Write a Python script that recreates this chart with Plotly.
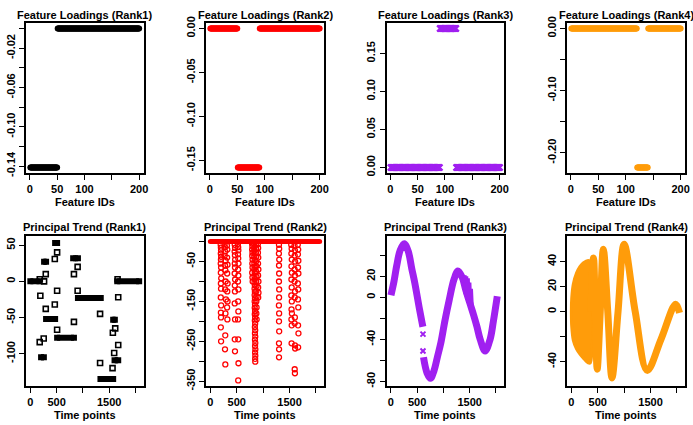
import plotly.graph_objects as go

W, H = 693, 425

# ----------------------------- data -----------------------------
# Feature loadings: (first feature, last feature, loading value)
rank1_loading_blocks = [(1, 50, -0.1414), (51, 200, 0.0)]
rank2_loading_blocks = [(1, 50, 0.0), (51, 90, -0.1581), (91, 200, 0.0)]
rank3_loading_blocks = [(1, 90, 0.0), (91, 120, 0.1826), (121, 200, 0.0)]
rank4_loading_blocks = [(1, 120, 0.0), (121, 140, -0.2236), (141, 200, 0.0)]

# Principal trend rank 1: plateaus (t_start, t_end, value) + isolated points
rank1_plateaus = [(1, 175, 0), (205, 258, -105), (262, 300, 27), (300, 472, -52),
                  (472, 510, 53), (510, 830, -78), (815, 906, 32), (906, 1340, -23),
                  (1334, 1576, -135), (1576, 1608, -53), (1602, 1672, -109),
                  (1653, 2070, 0)]
rank1_pts_t = [180, 191, 179, 255, 262, 294, 294, 466, 466, 510, 510, 510,
               830, 830, 900, 900, 1327, 1327, 1564, 1595, 1570, 1615, 1672, 1672, 1660]
rank1_pts_v = [3, -20, -84, -79, 0, 10, -38, -32, 31, 40, -13, -67,
               10, -56, 20, -13, -45, -113, -120, -99, -71, -65, -88, -22, 3]

# Principal trend rank 2: baseline at zero + downward spikes (t, value)
rank2_baseline = (1, 2070, 0.0)
rank2_spikes = [
    (196, -8), (200, -15), (203, -22), (198, -30), (205, -38), (201, -45), (197, -55),
    (204, -65), (199, -78), (206, -92), (200, -105), (203, -118), (198, -140), (205, -160),
    (200, -178), (202, -190), (199, -215), (204, -250),
    (270, -6), (276, -14), (282, -25), (273, -35), (288, -48), (279, -60), (285, -72),
    (290, -100), (281, -120), (296, -145), (287, -180), (283, -235), (278, -270), (284, -308),
    (315, -10), (322, -20), (318, -40), (325, -58), (319, -80), (327, -105), (321, -125),
    (326, -150), (318, -165), (323, -195),
    (462, -8), (468, -16), (460, -25), (466, -34), (470, -45), (463, -55), (467, -65),
    (461, -80), (469, -95), (464, -110), (466, -125), (462, -155), (468, -195), (463, -245),
    (467, -275),
    (522, -6), (528, -14), (531, -22), (525, -32), (529, -42), (533, -55), (526, -70),
    (530, -85), (524, -100), (532, -120), (527, -150), (531, -175), (525, -195),
    (529, -245), (533, -305), (528, -348),
    (790, -5), (796, -12), (792, -20), (798, -28), (794, -36), (800, -45), (795, -55),
    (799, -65), (793, -78), (797, -90), (802, -100),
    (830, -6), (836, -14), (832, -22), (838, -30), (834, -38), (840, -46), (835, -54),
    (839, -62), (833, -70), (841, -78), (836, -86), (842, -94), (837, -102), (843, -110),
    (838, -118), (844, -126), (839, -134), (845, -142), (840, -150), (846, -158),
    (841, -166), (847, -174), (842, -182), (848, -190), (843, -198), (849, -206),
    (844, -214), (850, -222), (845, -230), (851, -238), (846, -246), (852, -254),
    (847, -262), (853, -270), (848, -278), (852, -286), (849, -294), (851, -301),
    (862, -8), (868, -18), (864, -28), (870, -38), (866, -50), (872, -62), (867, -75),
    (873, -88), (869, -100), (874, -112), (870, -125), (875, -138), (871, -150),
    (876, -165), (872, -180), (877, -195),
    (900, -6), (906, -16), (902, -28), (908, -40), (904, -55), (910, -70), (905, -85),
    (911, -100), (906, -115), (912, -128), (907, -140),
    (1300, -8), (1304, -18), (1299, -30), (1305, -45), (1301, -60), (1303, -80),
    (1300, -100), (1304, -120), (1302, -140), (1299, -160), (1303, -180), (1301, -200),
    (1304, -225), (1300, -255), (1302, -270), (1301, -290),
    (1532, -8), (1540, -18), (1535, -30), (1542, -45), (1537, -62), (1544, -78),
    (1536, -95), (1541, -115), (1534, -135), (1543, -150), (1538, -170), (1545, -180),
    (1536, -195), (1541, -210), (1539, -255),
    (1595, -10), (1602, -22), (1598, -35), (1605, -50), (1597, -70), (1603, -85),
    (1596, -100), (1604, -125), (1599, -140), (1601, -190), (1597, -205), (1603, -260),
    (1606, -268), (1598, -320), (1602, -330),
    (1656, -8), (1664, -20), (1659, -32), (1667, -48), (1661, -65), (1668, -80),
    (1658, -105), (1665, -120), (1660, -145), (1666, -165), (1662, -210), (1669, -230),
    (1663, -265),
]

# Principal trend rank 3: band centre line, jagged part and isolated crosses
rank3_seg1_t = [3, 60, 112, 180, 255, 330, 400, 455, 548, 598, 610]
rank3_seg1_v = [2, 15, 30, 45, 51, 44, 27, 14, -12, -25, -28]
rank3_seg2_t = [622, 690, 754, 820, 890, 953, 1030, 1109, 1202, 1277, 1358, 1420,
                1500, 1576, 1639, 1700, 1794, 1888, 1950, 2025]
rank3_seg2_v = [-57, -72, -77, -70, -56, -43, -22, -3, 17, 25, 19, 8,
                -5, -17, -28, -40, -51, -40, -23, 1]
rank3_jag_t = [1390, 1405, 1420, 1435, 1450, 1465, 1480, 1495, 1510, 1525, 1540]
rank3_jag_v = [14, 21, 3, 20, -2, 18, -5, 14, -7, 8, -8]
rank3_iso_t = [612, 612]
rank3_iso_v = [-35, -51]

# Principal trend rank 4: dense early envelope + later oscillation
rank4_env_upper_t = [1, 8, 38, 100, 163, 225, 320, 360]
rank4_env_upper_v = [0, 11, 22, 31, 36, 39, 41, 40]
rank4_env_lower_t = [360, 320, 225, 163, 100, 38, 8]
rank4_env_lower_v = [-41, -41, -37, -34, -30, -23, -12]
rank4_osc_t = [372, 420, 455, 490, 548, 606, 690, 770, 885, 1000, 1210, 1437, 1700, 1975, 2050]
rank4_osc_v = [0, 43, 0, -46, 0, 50, 0, -53, 0, 54, 0, -47, -22, 6, -1]

# tick labels
top_xticks = [0, 50, 100, 150, 200]
top_xtext = ["0", "50", "100", "", "200"]
bot_xticks = [0, 500, 1000, 1500, 2000]
bot_xtext = ["0", "500", "", "1500", ""]

y_ticks = {
    1: ([0, -0.02, -0.04, -0.06, -0.08, -0.10, -0.12, -0.14],
        ["", "-0.02", "", "-0.06", "", "-0.10", "", "-0.14"]),
    2: ([0, -0.05, -0.10, -0.15], ["0.00", "-0.05", "-0.10", "-0.15"]),
    3: ([0, 0.05, 0.10, 0.15], ["0.00", "0.05", "0.10", "0.15"]),
    4: ([0, -0.05, -0.10, -0.15, -0.20], ["0.00", "", "-0.10", "", "-0.20"]),
    5: ([50, 0, -50, -100], ["50", "0", "-50", "-100"]),
    6: ([0, -50, -100, -150, -200, -250, -300, -350],
        ["", "-50", "", "-150", "", "-250", "", "-350"]),
    7: ([40, 20, 0, -20, -40, -60, -80], ["", "20", "0", "", "-40", "", "-80"]),
    8: ([40, 20, 0, -20, -40], ["40", "20", "0", "", "-40"]),
}
y_ranges = {1: [-0.1471, 0.0057], 2: [-0.1644, 0.0063], 3: [-0.0073, 0.1899],
            4: [-0.2325, 0.0089], 5: [-144.7, 62.7], 6: [-362, 14],
            7: [-84.3, 58.3], 8: [-59.5, 60.5]}
top_xrange = [-6.96, 207.96]
bot_xrange = [-81.8, 2152.8]

titles = ["Feature Loadings (Rank1)", "Feature Loadings (Rank2)",
          "Feature Loadings (Rank3)", "Feature Loadings (Rank4)",
          "Principal Trend (Rank1)", "Principal Trend (Rank2)",
          "Principal Trend (Rank3)", "Principal Trend (Rank4)"]

BLACK, RED, PURPLE, ORANGE = "#000000", "#FF0000", "#A020F0", "#FF9C0A"

# ----------------------------- layout -----------------------------
cols = [(26, 143.5), (206, 324), (386.5, 504), (567, 685)]
rows = [(23, 173), (236, 386)]
FONT = "Liberation Sans, Arial, Helvetica, sans-serif"

fig = go.Figure()


def dom_x(a, b):
    return [a / W, b / W]


def dom_y(t, b):
    return [1 - b / H, 1 - t / H]


def ax(i):
    return ("x" if i == 1 else f"x{i}"), ("y" if i == 1 else f"y{i}")


def expand(blocks):
    xs, ys = [], []
    for a, b, v in blocks:
        for f in range(a, b + 1):
            xs.append(f)
            ys.append(v)
    return xs, ys


# --- top row: loadings
for i, (blocks, col) in enumerate(zip(
        [rank1_loading_blocks, rank2_loading_blocks, rank3_loading_blocks, rank4_loading_blocks],
        [BLACK, RED, PURPLE, ORANGE]), start=1):
    xa, ya = ax(i)
    xs, ys = expand(blocks)
    if i == 3:
        mk = dict(symbol="x-thin", size=6, line=dict(color=col, width=2.2), color=col)
    else:
        mk = dict(symbol="circle", size=6, color=col, line=dict(width=0))
    fig.add_trace(go.Scatter(x=xs, y=ys, mode="markers", marker=mk, xaxis=xa, yaxis=ya,
                             hoverinfo="skip"))

# --- panel 5: rank1 trend
xa, ya = ax(5)
for a, b, v in rank1_plateaus:
    fig.add_trace(go.Scatter(x=[a, b], y=[v, v], mode="lines+markers",
                             line=dict(color=BLACK, width=6),
                             marker=dict(symbol="square", size=6, color=BLACK),
                             xaxis=xa, yaxis=ya, hoverinfo="skip"))
fig.add_trace(go.Scatter(x=rank1_pts_t, y=rank1_pts_v, mode="markers",
                         marker=dict(symbol="square-open", size=5, color=BLACK,
                                     line=dict(color=BLACK, width=1.6)),
                         xaxis=xa, yaxis=ya, hoverinfo="skip"))

# --- panel 6: rank2 trend
xa, ya = ax(6)
fig.add_trace(go.Scatter(x=[t for t, v in rank2_spikes], y=[v for t, v in rank2_spikes],
                         mode="markers",
                         marker=dict(symbol="circle-open", size=5, color=RED,
                                     line=dict(color=RED, width=1.3)),
                         xaxis=xa, yaxis=ya, hoverinfo="skip"))
fig.add_trace(go.Scatter(x=[rank2_baseline[0], rank2_baseline[1]],
                         y=[rank2_baseline[2], rank2_baseline[2]], mode="lines+markers",
                         line=dict(color=RED, width=5),
                         marker=dict(symbol="circle", size=5, color=RED),
                         xaxis=xa, yaxis=ya, hoverinfo="skip"))

# --- panel 7: rank3 trend
xa, ya = ax(7)
for tt, vv in [(rank3_seg1_t, rank3_seg1_v), (rank3_seg2_t, rank3_seg2_v)]:
    fig.add_trace(go.Scatter(x=tt, y=vv, mode="lines",
                             line=dict(color=PURPLE, width=7, shape="spline", smoothing=1.0),
                             xaxis=xa, yaxis=ya, hoverinfo="skip"))
fig.add_trace(go.Scatter(x=rank3_jag_t, y=rank3_jag_v, mode="lines",
                         line=dict(color=PURPLE, width=4),
                         xaxis=xa, yaxis=ya, hoverinfo="skip"))
fig.add_trace(go.Scatter(x=rank3_iso_t, y=rank3_iso_v, mode="markers",
                         marker=dict(symbol="x-thin", size=5, color=PURPLE,
                                     line=dict(color=PURPLE, width=2)),
                         xaxis=xa, yaxis=ya, hoverinfo="skip"))

# --- panel 8: rank4 trend
xa, ya = ax(8)
fig.add_trace(go.Scatter(x=rank4_env_upper_t + rank4_env_lower_t + [rank4_env_upper_t[0]],
                         y=rank4_env_upper_v + rank4_env_lower_v + [rank4_env_upper_v[0]],
                         mode="lines", fill="toself", fillcolor=ORANGE,
                         line=dict(color=ORANGE, width=3, shape="spline", smoothing=0.8),
                         xaxis=xa, yaxis=ya, hoverinfo="skip"))
fig.add_trace(go.Scatter(x=rank4_osc_t, y=rank4_osc_v, mode="lines",
                         line=dict(color=ORANGE, width=7, shape="spline", smoothing=1.0),
                         xaxis=xa, yaxis=ya, hoverinfo="skip"))

# --- axes
tickfont = dict(family=FONT, size=11, color="black", weight="bold")
layout = {}
annotations = []
for i in range(1, 9):
    r = 0 if i <= 4 else 1
    c = (i - 1) % 4
    xl, xr = cols[c]
    yt, yb = rows[r]
    xkey = "xaxis" if i == 1 else f"xaxis{i}"
    ykey = "yaxis" if i == 1 else f"yaxis{i}"
    xa, ya = ax(i)
    common = dict(showline=True, linecolor="black", linewidth=2, mirror=True,
                  ticks="outside", ticklen=5, tickwidth=1.2, tickcolor="black",
                  showgrid=False, zeroline=False, tickfont=tickfont, fixedrange=True,
                  automargin=False)
    layout[xkey] = dict(domain=dom_x(xl, xr), anchor=ya,
                        range=top_xrange if r == 0 else bot_xrange,
                        tickmode="array",
                        tickvals=top_xticks if r == 0 else bot_xticks,
                        ticktext=top_xtext if r == 0 else bot_xtext, **common)
    tv, tt = y_ticks[i]
    layout[ykey] = dict(domain=dom_y(yt, yb), anchor=xa, range=y_ranges[i],
                        tickmode="array", tickvals=tv, ticktext=tt, tickangle=-90,
                        **common)
    annotations.append(dict(text=titles[i - 1], xref="paper", yref="paper",
                            x=(xl + xr) / 2 / W, y=1 - (15 if r == 0 else 227) / H,
                            xanchor="center", yanchor="middle", showarrow=False,
                            font=dict(family=FONT, size=11, color="black", weight="bold")))
    annotations.append(dict(text="Feature IDs" if r == 0 else "Time points",
                            xref="paper", yref="paper",
                            x=(xl + xr) / 2 / W, y=1 - (202 if r == 0 else 415) / H,
                            xanchor="center", yanchor="middle", showarrow=False,
                            font=dict(family=FONT, size=11, color="black", weight="bold")))

fig.update_layout(width=W, height=H, margin=dict(l=0, r=0, t=0, b=0, autoexpand=False),
                  paper_bgcolor="white", plot_bgcolor="white", showlegend=False,
                  annotations=annotations, **layout)

fig.write_html("out.html")
